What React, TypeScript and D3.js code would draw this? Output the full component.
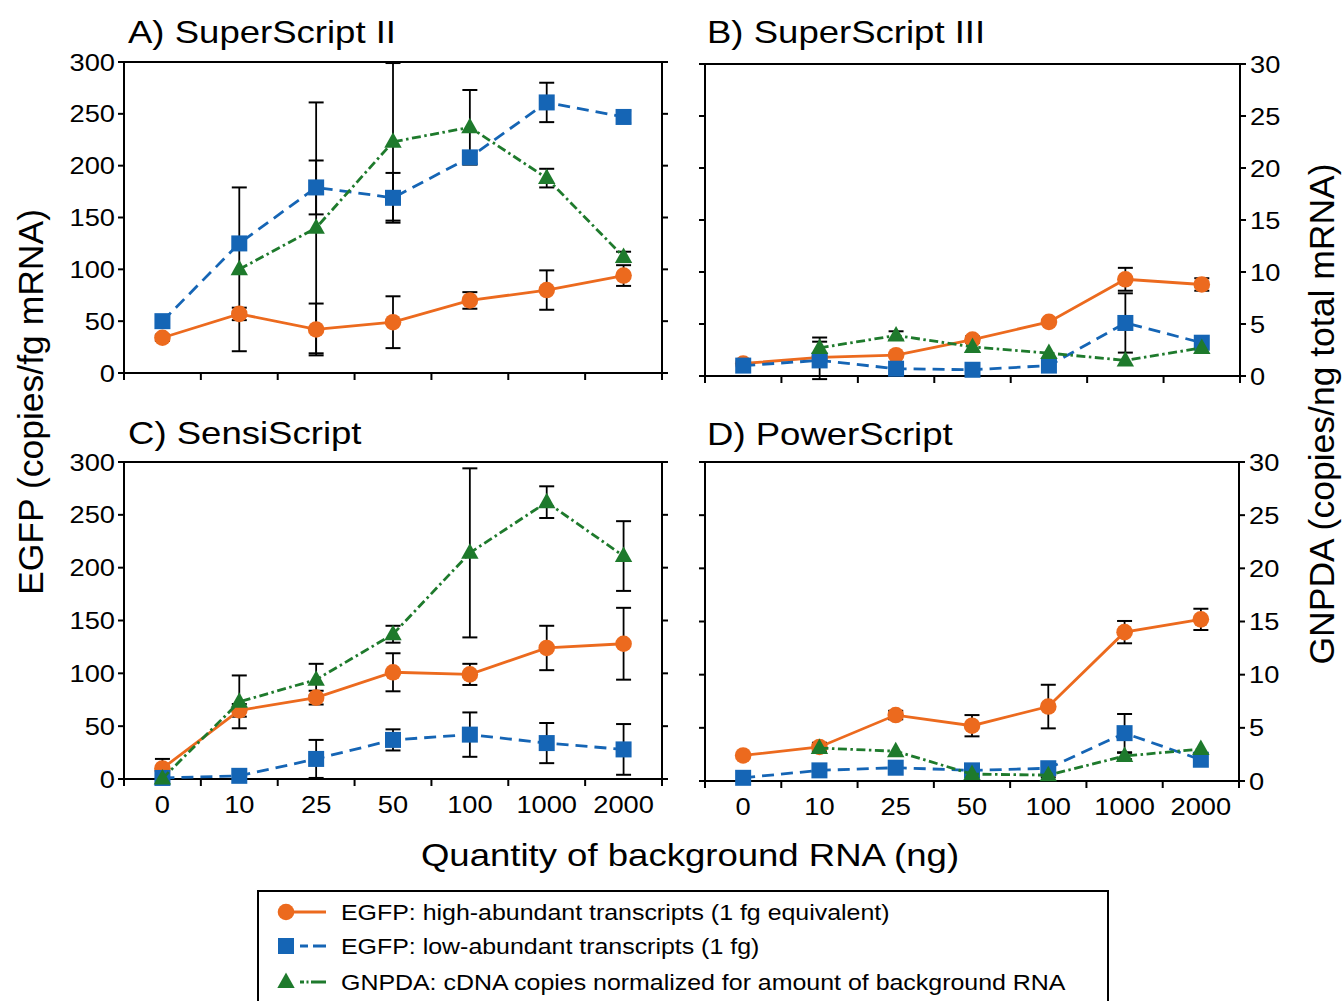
import React, { useEffect, useRef } from 'react';
import * as d3 from 'd3';

// x categories: quantity of background RNA (ng)
const categories = ['0', '10', '25', '50', '100', '1000', '2000'];
const leftTicks = [0, 50, 100, 150, 200, 250, 300];
const rightTicks = [0, 5, 10, 15, 20, 25, 30];

// A) SuperScript II  (0-300 scale)
const aHigh = [34, 57, 42, 49, 70, 80, 94];
const aHighErr = [3, 6, 25, 25, 8, 19, 10];
const aLow = [50, 125, 179, 169, 208, 261, 247];
const aLowErr = [0, 0, 26, 24, 6, 19, 6];
const aGnpda = [null, 100, 140, 223, 237, 188, 112];
const aGnpdaErr = [0, 79, 121, 76, 36, 9, 5];

// B) SuperScript III  (0-30 scale)
const bHigh = [1.2, 1.8, 2.0, 3.5, 5.2, 9.3, 8.8];
const bHighErr = [0, 0, 0, 0.3, 0, 1.1, 0.6];
const bLow = [1.0, 1.5, 0.7, 0.6, 1.0, 5.1, 3.2];
const bLowErr = [0, 1.8, 0, 0, 0, 2.85, 0];
const bGnpda = [null, 2.7, 3.9, 2.8, 2.2, 1.5, 2.7];
const bGnpdaErr = [0, 1, 0.4, 0, 0, 0, 0];

// C) SensiScript  (0-300 scale)
const cHigh = [10, 65, 77, 101, 99, 124, 128];
const cHighErr = [9, 6, 6.5, 18, 10, 21, 34];
const cLow = [1, 3, 19, 37, 42, 34, 28];
const cLowErr = [0, 0, 18, 10, 21, 19, 24];
const cGnpda = [0.5, 73, 94, 137, 214, 262, 211];
const cGnpdaErr = [0, 25, 15, 8, 80, 15, 33];

// D) PowerScript  (0-30 scale)
const dHigh = [2.4, 3.2, 6.2, 5.2, 7.0, 14.0, 15.2];
const dHighErr = [0, 0.4, 0.4, 1, 2.05, 1.05, 1];
const dLow = [0.3, 1.0, 1.25, 1.0, 1.2, 4.5, 2.0];
const dLowErr = [0, 0, 0, 0, 0, 1.8, 0];
const dGnpda = [null, 3.1, 2.8, 0.65, 0.55, 2.35, 3.0];
const dGnpdaErr = [0, 0.3, 0, 0.2, 0.2, 0.3, 0];

const legendLabels = [
  'EGFP: high-abundant transcripts (1 fg equivalent)',
  'EGFP: low-abundant transcripts (1 fg)',
  'GNPDA: cDNA copies normalized for amount of background RNA',
];

const ORANGE = '#EC6A1E';
const BLUE = '#1565B5';
const GREEN = '#1E7A2C';
const FONT = '"Liberation Sans", Arial, Helvetica, sans-serif';
const SX = 1.16; // the figure's text is a bit wider than plain Arial

type Panel = {
  title: string;
  tx: number; ty: number;
  x0: number; x1: number; y0: number; y1: number;
  side: 'left' | 'right';
  xLabels: boolean;
  series: { values: (number | null)[]; errs: number[] }[];
};

const panels: Panel[] = [
  { title: 'A) SuperScript II', tx: 128, ty: 43, x0: 124, x1: 662, y0: 62, y1: 373, side: 'left', xLabels: false,
    series: [{ values: aHigh, errs: aHighErr }, { values: aLow, errs: aLowErr }, { values: aGnpda, errs: aGnpdaErr }] },
  { title: 'B) SuperScript III', tx: 707, ty: 43, x0: 705, x1: 1240, y0: 64, y1: 376, side: 'right', xLabels: false,
    series: [{ values: bHigh, errs: bHighErr }, { values: bLow, errs: bLowErr }, { values: bGnpda, errs: bGnpdaErr }] },
  { title: 'C) SensiScript', tx: 128, ty: 444, x0: 124, x1: 662, y0: 462, y1: 779, side: 'left', xLabels: true,
    series: [{ values: cHigh, errs: cHighErr }, { values: cLow, errs: cLowErr }, { values: cGnpda, errs: cGnpdaErr }] },
  { title: 'D) PowerScript', tx: 707, ty: 445, x0: 705, x1: 1239, y0: 462, y1: 781, side: 'right', xLabels: true,
    series: [{ values: dHigh, errs: dHighErr }, { values: dLow, errs: dLowErr }, { values: dGnpda, errs: dGnpdaErr }] },
];

const styles = [
  { color: ORANGE, dash: null as string | null, marker: 'circle' },
  { color: BLUE, dash: '12,7', marker: 'square' },
  { color: GREEN, dash: '9,3.5,2.5,3.5', marker: 'triangle' },
];

function drawMarker(g: any, kind: string, x: number, y: number, color: string) {
  if (kind === 'circle') {
    g.append('circle').attr('cx', x).attr('cy', y).attr('r', 8.3).attr('fill', color);
  } else if (kind === 'square') {
    g.append('rect').attr('x', x - 8).attr('y', y - 8).attr('width', 16).attr('height', 16).attr('fill', color);
  } else {
    g.append('path')
      .attr('d', `M${x},${y - 9.5}L${x + 8.7},${y + 6}L${x - 8.7},${y + 6}Z`)
      .attr('fill', color);
  }
}

function addText(g: any, str: string, x: number, y: number, size: number, anchor = 'start') {
  return g.append('text')
    .attr('transform', `translate(${x},${y}) scale(${SX},1)`)
    .attr('text-anchor', anchor)
    .attr('font-size', size)
    .attr('font-family', FONT)
    .attr('fill', '#000')
    .text(str);
}

export default function App() {
  const svgRef = useRef<SVGSVGElement>(null);

  useEffect(() => {
    if (!svgRef.current) return;
    const svg = d3.select(svgRef.current);
    svg.selectAll('*').remove();

    panels.forEach((p) => {
      const g = svg.append('g');
      const x = d3.scaleBand().domain(categories).range([p.x0, p.x1]).padding(0);
      const ticks = p.side === 'left' ? leftTicks : rightTicks;
      const y = d3.scaleLinear().domain([0, ticks[ticks.length - 1]]).range([p.y1, p.y0]);
      const cx = (c: string) => x(c)! + x.bandwidth() / 2;

      // title
      addText(g, p.title, p.tx, p.ty, 31.5);

      // frame
      g.append('rect')
        .attr('x', p.x0).attr('y', p.y0)
        .attr('width', p.x1 - p.x0).attr('height', p.y1 - p.y0)
        .attr('fill', 'none').attr('stroke', '#000').attr('stroke-width', 2);

      // y ticks on both sides, labels on the outer side
      ticks.forEach((t) => {
        const yy = y(t);
        g.append('line').attr('x1', p.x0 - 6).attr('x2', p.x0).attr('y1', yy).attr('y2', yy)
          .attr('stroke', '#000').attr('stroke-width', 2);
        g.append('line').attr('x1', p.x1).attr('x2', p.x1 + 6).attr('y1', yy).attr('y2', yy)
          .attr('stroke', '#000').attr('stroke-width', 2);
        if (p.side === 'left') addText(g, String(t), p.x0 - 9, yy + 8.5, 23.5, 'end');
        else addText(g, String(t), p.x1 + 10, yy + 8.5, 23.5, 'start');
      });

      // x ticks at band edges
      const edges = categories.map((c) => x(c)!).concat([p.x1]);
      edges.forEach((ex) => {
        g.append('line').attr('x1', ex).attr('x2', ex).attr('y1', p.y1).attr('y2', p.y1 + 7)
          .attr('stroke', '#000').attr('stroke-width', 2);
      });
      if (p.xLabels) {
        categories.forEach((c) => addText(g, c, cx(c), p.y1 + 34, 23.5, 'middle'));
      }

      // error bars
      p.series.forEach((s) => {
        s.values.forEach((v, i) => {
          const e = s.errs[i];
          if (v == null || !e) return;
          const xx = cx(categories[i]);
          const top = y(Math.min(v + e, ticks[ticks.length - 1]));
          const bot = y(Math.max(v - e, ticks[0] - 1));
          g.append('line').attr('x1', xx).attr('x2', xx).attr('y1', top).attr('y2', bot)
            .attr('stroke', '#000').attr('stroke-width', 1.8);
          [top, bot].forEach((yy) => {
            g.append('line').attr('x1', xx - 7.5).attr('x2', xx + 7.5).attr('y1', yy).attr('y2', yy)
              .attr('stroke', '#000').attr('stroke-width', 2);
          });
        });
      });

      // lines + markers
      p.series.forEach((s, si) => {
        const st = styles[si];
        const pts = s.values
          .map((v, i) => ({ v, c: categories[i] }))
          .filter((d) => d.v != null) as { v: number; c: string }[];
        const line = d3.line<{ v: number; c: string }>().x((d) => cx(d.c)).y((d) => y(d.v));
        g.append('path')
          .attr('d', line(pts)!)
          .attr('fill', 'none')
          .attr('stroke', st.color)
          .attr('stroke-width', 2.8)
          .attr('stroke-dasharray', st.dash);
        pts.forEach((d) => drawMarker(g, st.marker, cx(d.c), y(d.v), st.color));
      });
    });

    // axis titles
    svg.append('text')
      .attr('transform', 'translate(43,402) rotate(-90)')
      .attr('text-anchor', 'middle')
      .attr('font-size', 35.5)
      .attr('font-family', FONT)
      .text('EGFP (copies/fg mRNA)');
    svg.append('text')
      .attr('transform', 'translate(1334,414) rotate(-90)')
      .attr('text-anchor', 'middle')
      .attr('font-size', 35.5)
      .attr('font-family', FONT)
      .text('GNPDA (copies/ng total mRNA)');
    addText(svg, 'Quantity of background RNA (ng)', 690, 866, 31.5, 'middle');

    // legend
    const lg = svg.append('g');
    lg.append('rect').attr('x', 258).attr('y', 891).attr('width', 850).attr('height', 130)
      .attr('fill', '#fff').attr('stroke', '#000').attr('stroke-width', 2);
    const rows = [912, 946, 982];
    legendLabels.forEach((lab, i) => {
      const st = styles[i];
      const yy = rows[i];
      lg.append('line').attr('x1', 286).attr('x2', 326).attr('y1', yy).attr('y2', yy)
        .attr('stroke', st.color).attr('stroke-width', 2.8)
        .attr('stroke-dasharray', i === 0 ? null : i === 1 ? '0,14,8,5,8' : '0,14,4,2.5,2,2.5,5');
      drawMarker(lg, st.marker, 286, yy, st.color);
      addText(lg, lab, 341, yy + 8, 21.5);
    });
  }, []);

  return (
    <div style={{ position: 'absolute', left: 0, top: 0 }}>
      <svg ref={svgRef} width={1342} height={1001} style={{ display: 'block', background: '#fff' }} />
    </div>
  );
}
